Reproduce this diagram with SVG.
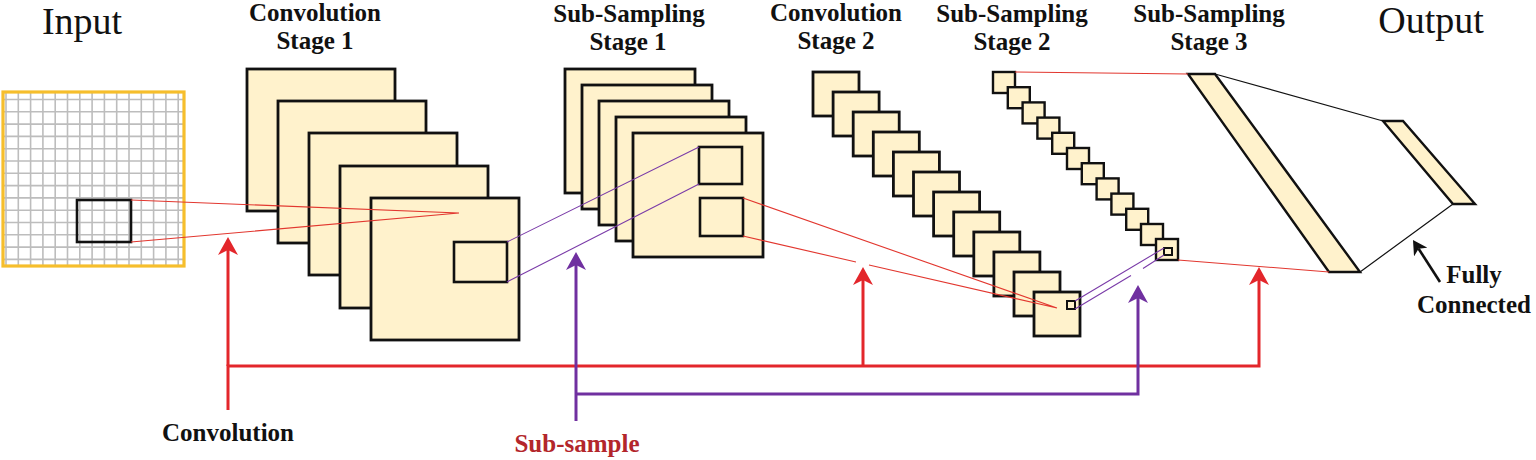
<svg xmlns="http://www.w3.org/2000/svg" width="1536" height="460" viewBox="0 0 1536 460">
<style>
.map{fill:#FFF2CC;stroke:#111;stroke-width:2.8}
.sm{fill:#FFF2CC;stroke:#111;stroke-width:2.4}
.win{fill:none;stroke:#111;stroke-width:2.6}
.grid{stroke:#BDBDBD;stroke-width:1.6;fill:none}
.thr{stroke:#E2372F;stroke-width:1.1;fill:none}
.thp{stroke:#7A3BA8;stroke-width:1.1;fill:none}
.thk{stroke:#111;stroke-width:1.2;fill:none}
.ar{stroke:#E3262B;stroke-width:3;fill:none}
.ap{stroke:#7030A0;stroke-width:3;fill:none}
.t{font-family:"Liberation Serif","Times New Roman",serif;font-weight:bold;font-size:25px;fill:#111;text-anchor:middle}
.big{font-family:"Liberation Serif","Times New Roman",serif;font-size:38px;fill:#111;text-anchor:middle}
</style>
<defs>
<marker id="hr" viewBox="0 0 18 20" refX="5" refY="10" markerWidth="18" markerHeight="20" markerUnits="userSpaceOnUse" orient="auto"><path d="M0,0 L18,10 L0,20 L5,10 Z" fill="#E3262B"/></marker>
<marker id="hp" viewBox="0 0 18 20" refX="5" refY="10" markerWidth="18" markerHeight="20" markerUnits="userSpaceOnUse" orient="auto"><path d="M0,0 L18,10 L0,20 L5,10 Z" fill="#7030A0"/></marker>
<marker id="hk" viewBox="0 0 18 20" refX="5" refY="10" markerWidth="14.4" markerHeight="16" markerUnits="userSpaceOnUse" orient="auto"><path d="M0,0 L18,10 L0,20 L5,10 Z" fill="#111"/></marker>
</defs>
<rect width="1536" height="460" fill="#fff"/>

<g id="labels">
<text class="big" x="82" y="34">Input</text>
<text class="big" x="1431" y="33">Output</text>
<text class="t" x="315" y="21">Convolution</text>
<text class="t" x="315" y="49">Stage 1</text>
<text class="t" x="629" y="22">Sub-Sampling</text>
<text class="t" x="628" y="50">Stage 1</text>
<text class="t" x="836" y="21">Convolution</text>
<text class="t" x="836" y="49">Stage 2</text>
<text class="t" x="1012" y="22">Sub-Sampling</text>
<text class="t" x="1012" y="50">Stage 2</text>
<text class="t" x="1209" y="22">Sub-Sampling</text>
<text class="t" x="1209" y="50">Stage 3</text>
<text class="t" x="228" y="441">Convolution</text>
<text class="t" x="577" y="452" style="fill:#B3262B">Sub-sample</text>
<text class="t" x="1474" y="283">Fully</text>
<text class="t" x="1474" y="313">Connected</text>
</g>

<g id="input">
<rect x="3" y="92" width="181" height="174" fill="#fff"/>
<path class="grid" d="M6,93V265M18.3,93V265M30.6,93V265M42.9,93V265M55.2,93V265M67.5,93V265M79.8,93V265M92.1,93V265M104.4,93V265M116.7,93V265M129,93V265M141.3,93V265M153.6,93V265M165.9,93V265M178.2,93V265M4,99.5H183M4,111.8H183M4,124.1H183M4,136.4H183M4,148.7H183M4,161H183M4,173.3H183M4,185.6H183M4,197.9H183M4,210.2H183M4,222.5H183M4,234.8H183M4,247.1H183M4,259.4H183"/>
<rect x="3" y="92" width="181" height="174" fill="none" stroke="#F6BE2C" stroke-width="3.2"/>
<rect class="win" x="77" y="200" width="54" height="42"/>
</g>

<g id="conv1">
<rect class="map" x="247" y="69" width="148" height="142"/>
<rect class="map" x="278" y="101" width="148" height="142"/>
<rect class="map" x="309" y="133" width="148" height="142"/>
<rect class="map" x="340" y="166" width="148" height="142"/>
<rect class="map" x="371" y="198" width="148" height="142"/>
<rect class="win" x="454" y="242" width="53" height="40"/>
</g>

<g id="sub1">
<rect class="map" x="565" y="69" width="130" height="124"/>
<rect class="map" x="582" y="85" width="130" height="124"/>
<rect class="map" x="599" y="101" width="130" height="124"/>
<rect class="map" x="616" y="117" width="130" height="124"/>
<rect class="map" x="633" y="133" width="130" height="124"/>
<rect class="win" x="699" y="147" width="43" height="37"/>
<rect class="win" x="700" y="198" width="43" height="38"/>
</g>

<g id="conv2">
<rect class="map" x="813" y="72" width="46" height="44"/>
<rect class="map" x="833.1" y="92" width="46" height="44"/>
<rect class="map" x="853.2" y="112" width="46" height="44"/>
<rect class="map" x="873.3" y="132" width="46" height="44"/>
<rect class="map" x="893.4" y="152" width="46" height="44"/>
<rect class="map" x="913.5" y="172" width="46" height="44"/>
<rect class="map" x="933.6" y="192" width="46" height="44"/>
<rect class="map" x="953.7" y="212" width="46" height="44"/>
<rect class="map" x="973.8" y="232" width="46" height="44"/>
<rect class="map" x="993.9" y="252" width="46" height="44"/>
<rect class="map" x="1014" y="272" width="46" height="44"/>
<rect class="map" x="1034" y="292" width="46" height="44"/>
<rect class="win" x="1067" y="301" width="8" height="8" style="stroke-width:2"/>
</g>

<g id="sub2">
<rect class="sm" x="993" y="72" width="22" height="21"/>
<rect class="sm" x="1007.8" y="87.2" width="22" height="21"/>
<rect class="sm" x="1022.6" y="102.4" width="22" height="21"/>
<rect class="sm" x="1037.4" y="117.6" width="22" height="21"/>
<rect class="sm" x="1052.2" y="132.8" width="22" height="21"/>
<rect class="sm" x="1067" y="148" width="22" height="21"/>
<rect class="sm" x="1081.8" y="163.2" width="22" height="21"/>
<rect class="sm" x="1096.6" y="178.4" width="22" height="21"/>
<rect class="sm" x="1111.4" y="193.6" width="22" height="21"/>
<rect class="sm" x="1126.2" y="208.8" width="22" height="21"/>
<rect class="sm" x="1141" y="224" width="22" height="21"/>
<rect class="sm" x="1156" y="239" width="22" height="21"/>
<rect class="win" x="1164" y="248" width="8" height="7" style="stroke-width:2"/>
</g>

<g id="sub3">
<polygon class="sm" points="1188,74 1215,74 1360,272 1329,272"/>
</g>

<g id="output">
<polygon class="sm" points="1383,121 1403,121 1475,204 1453,204"/>
</g>

<g id="connectors">
<path class="thr" d="M131,200L459,213M131,242L459,213"/>
<path class="thp" d="M507,242L699,147M507,282L699,184"/>
<path class="thr" d="M743,198L1057,308M743,236L856,262M869,265L1057,308"/>
<path class="thp" d="M1075,301L1164,248M1075,309L1131,275.5M1143,268.5L1164,255"/>
<path class="thr" d="M1015,72L1188,74M1178,260L1329,272"/>
<path class="thk" d="M1215,74L1383,121M1453,204L1360,272"/>
<path class="ar" d="M228,410V366H1259V280" marker-end="url(#hr)"/>
<path class="ar" d="M228,366V250" marker-end="url(#hr)"/>
<path class="ar" d="M863,366V280" marker-end="url(#hr)"/>
<path class="ap" d="M576,421V265" marker-end="url(#hp)"/>
<path class="ap" d="M576,394H1138V298" marker-end="url(#hp)"/>
<path stroke="#111" stroke-width="2.6" fill="none" d="M1440,282L1418.6,248.7" marker-end="url(#hk)"/>
</g>
</svg>
